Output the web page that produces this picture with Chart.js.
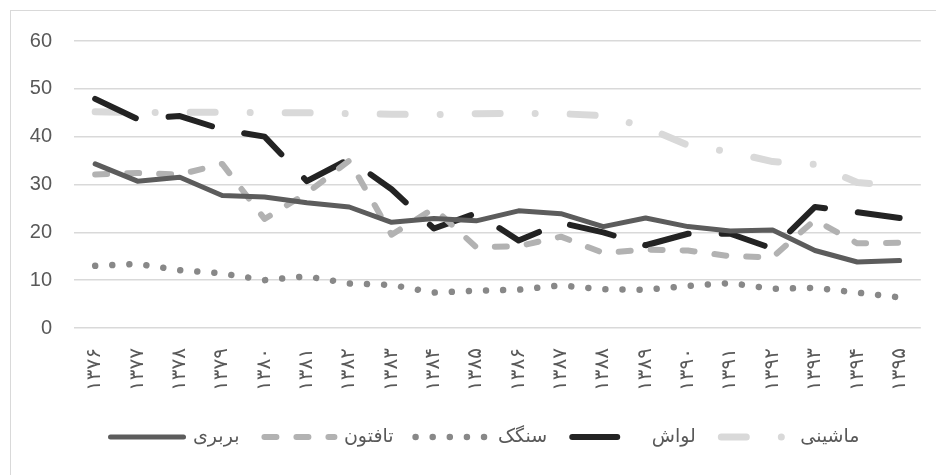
<!DOCTYPE html>
<html>
<head>
<meta charset="utf-8">
<script src="https://cdn.jsdelivr.net/npm/chart.js@4.4.0/dist/chart.umd.min.js"></script>
<style>
    html, body { margin: 0; padding: 0; background: #fff; }
    .frame { position: absolute; left: 10px; top: 10px; width: 940px; height: 480px; border-left: 1px solid #d9d9d9; border-top: 1px solid #d9d9d9; }
    canvas { position: absolute; left: 0; top: 0; }
</style>
</head>
<body>
<div class="frame"></div>
<canvas id="GraficoDeLinhas" width="936" height="475"></canvas>
<script>
// سال‌ها
const years = ['۱۳۷۶', '۱۳۷۷', '۱۳۷۸', '۱۳۷۹', '۱۳۸۰', '۱۳۸۱', '۱۳۸۲', '۱۳۸۳', '۱۳۸۴', '۱۳۸۵',
    '۱۳۸۶', '۱۳۸۷', '۱۳۸۸', '۱۳۸۹', '۱۳۹۰', '۱۳۹۱', '۱۳۹۲', '۱۳۹۳', '۱۳۹۴', '۱۳۹۵'];
const yTicks = [0, 10, 20, 30, 40, 50, 60];

const barbari = [34.3, 30.7, 31.5, 27.7, 27.4, 26.2, 25.3, 22.1, 22.9, 22.4, 24.5, 23.9, 21.2, 23.0, 21.2, 20.3, 20.5, 16.2, 13.8, 14.1];
const taftoon = [32.1, 32.4, 32.1, 34.3, 22.8, 28.2, 35.0, 19.5, 25.0, 16.9, 17.1, 19.1, 15.7, 16.4, 16.2, 15.0, 14.8, 22.6, 17.7, 17.8];
const sangak = [13.0, 13.4, 12.1, 11.4, 10.0, 10.8, 9.3, 9.0, 7.4, 7.8, 8.0, 8.9, 8.1, 8.0, 8.8, 9.4, 8.2, 8.4, 7.4, 6.4];
const lavash = [47.9, 43.7, 44.3, 41.5, 40.0, 30.7, 35.3, 29.0, 20.8, 24.0, 18.3, 22.0, 20.0, 17.3, 19.7, 19.7, 16.6, 25.3, 24.2, 23.0];
const mashini = [45.2, 45.0, 45.1, 45.1, 45.0, 45.0, 44.8, 44.7, 44.6, 44.8, 44.9, 44.8, 44.4, 42.0, 38.2, 36.8, 34.8, 34.2, 30.4, 29.8];

var ctx = document.getElementById('GraficoDeLinhas').getContext('2d');

function serie(label, data, color, width, dash, legendOffset) {
    return {
        label: label,
        data: data,
        borderColor: color,
        backgroundColor: color,
        borderWidth: width,
        borderDash: dash,
        borderCapStyle: 'round',
        borderJoinStyle: 'round',
        pointRadius: 0,
        tension: 0,
        legendOffset: legendOffset
    };
}

var dados = {
    labels: years,
    datasets: [
        serie('بربری', barbari, '#5c5c5c', 5, [], 0),
        serie('تافتون', taftoon, '#b2b2b2', 6, [12, 20], 29),
        serie('سنگک', sangak, '#888888', 6.5, [0.01, 17.1], 0),
        serie('لواش', lavash, '#232323', 6, [45, 33], 75),
        serie('ماشینی', mashini, '#d9d9d9', 7, [25, 35, 0.01, 35], 91.5)
    ]
};

// legend is a bit right of center in the original
const legendShift = {
    id: 'legendShift',
    afterLayout: function (chart) {
        chart.legend.left += 19;
        chart.legend.right += 19;
    }
};

var options = {
    responsive: false,
    animation: false,
    layout: { padding: { top: 41, left: 10, right: 14, bottom: 18.5 } },
    plugins: {
        tooltip: { enabled: false },
        legend: {
            position: 'bottom',
            labels: {
                usePointStyle: true,
                pointStyleWidth: 73,
                padding: 22,
                color: '#595959',
                font: { family: "'Liberation Sans', 'DejaVu Sans', sans-serif", size: 19 },
                generateLabels: function (chart) {
                    return chart.data.datasets.map(function (ds, i) {
                        return {
                            text: ds.label,
                            strokeStyle: ds.borderColor,
                            fillStyle: 'rgba(0,0,0,0)',
                            lineWidth: ds.borderWidth,
                            lineDash: ds.borderDash,
                            lineDashOffset: ds.legendOffset,
                            lineCap: 'round',
                            pointStyle: 'line',
                            fontColor: '#595959',
                            hidden: false,
                            datasetIndex: i
                        };
                    });
                }
            }
        }
    },
    scales: {
        x: {
            offset: true,
            grid: { display: false },
            border: { display: false },
            ticks: {
                autoSkip: false,
                minRotation: 90,
                maxRotation: 90,
                padding: 12,
                color: '#595959',
                font: { family: "'DejaVu Sans', sans-serif", size: 20 }
            },
            afterFit: function (s) { s.height = 77.5; }
        },
        y: {
            min: 0,
            max: 60,
            grid: { color: '#d9d9d9', lineWidth: 1.5, drawTicks: false },
            border: { display: false },
            ticks: {
                stepSize: 10,
                padding: 22,
                color: '#595959',
                font: { family: "'Liberation Sans', sans-serif", size: 20 },
                callback: function (v) { return yTicks.includes(v) ? v : null; }
            },
            afterFit: function (s) { s.width = 64; }
        }
    }
};

var Grafico = new Chart(ctx, {
    type: 'line',
    data: dados,
    options: options,
    plugins: [legendShift]
});
</script>
</body>
</html>
